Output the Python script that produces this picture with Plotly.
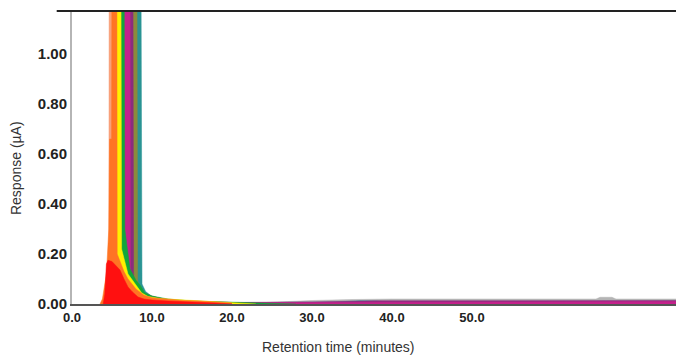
import plotly.graph_objects as go

TOP = 1.6  # peaks run off scale

# Retention times (min) and responses (uA), per sample (back to front)
gray_t = [20, 25, 30, 35, 40, 50, 60, 65.5, 66, 67.5, 68, 76.5]
gray_y = [0, 0.008, 0.014, 0.018, 0.02, 0.02, 0.02, 0.02, 0.027, 0.027, 0.02, 0.02]

teal_t = [4.9, 5.0, 8.6, 8.75, 9.2, 10, 12, 15, 20, 25, 30, 33, 36, 38, 40, 50, 60, 76.5]
teal_y = [0, TOP, TOP, 0.08, 0.05, 0.03, 0.015, 0.008, 0.005, 0.005, 0.006, 0.008, 0.013, 0.012, 0.007, 0.007, 0.007, 0.007]

olive_t = [4.9, 5.0, 8.1, 8.2, 9.0, 10, 12, 16, 20, 25, 30, 40, 76.5]
olive_y = [0, TOP, TOP, 0.09, 0.045, 0.03, 0.016, 0.008, 0.006, 0.006, 0.006, 0.006, 0.006]

purple_t = [4.9, 5.0, 7.6, 7.7, 9.0, 12, 20, 30, 38, 50, 76.5]
purple_y = [0, TOP, TOP, 0.1, 0.04, 0.015, 0.006, 0.008, 0.013, 0.014, 0.014]

magenta_t = [4.9, 5.0, 7.25, 7.3, 9.0, 12, 20, 30, 40, 55, 76.5]
magenta_y = [0, TOP, TOP, 0.12, 0.03, 0.012, 0.006, 0.007, 0.009, 0.01, 0.01]

green_t = [4.9, 5.0, 6.5, 6.6, 7.25, 8.0, 8.5, 9.1, 10, 12, 15, 20, 25, 28]
green_y = [0, TOP, TOP, 0.3, 0.14, 0.095, 0.076, 0.045, 0.032, 0.02, 0.012, 0.007, 0.004, 0]

yellow_t = [4.9, 5.0, 6.1, 6.2, 7.0, 8.0, 8.7, 9.5, 11, 13, 15, 17, 19, 21, 23]
yellow_y = [0, TOP, TOP, 0.22, 0.12, 0.076, 0.045, 0.03, 0.022, 0.018, 0.015, 0.012, 0.008, 0.004, 0]

salmon_t = [4.6, 4.65, 5.35, 5.4, 6.0]
salmon_y = [0, TOP, TOP, 0.2, 0.1]

orange_t = [3.5, 3.8, 4.0, 4.3, 4.6, 4.7, 4.95, 5.0, 5.6, 5.65, 6.5, 7.0, 8.0, 9.0, 10, 12, 14, 16, 18, 20]
orange_y = [0, 0.02, 0.06, 0.12, 0.3, 0.66, 0.66, TOP, TOP, 0.2, 0.13, 0.1, 0.06, 0.035, 0.025, 0.018, 0.014, 0.012, 0.008, 0.004]

red_t = [3.9, 4.1, 4.3, 4.5, 5.0, 5.5, 6.0, 6.5, 7.0, 7.5, 8.25, 9, 10, 12, 14, 16, 18, 20]
red_y = [0, 0.04, 0.16, 0.175, 0.17, 0.155, 0.136, 0.1, 0.068, 0.05, 0.028, 0.02, 0.016, 0.012, 0.01, 0.008, 0.004, 0]

series = [
    (gray_t, gray_y, "#b4b4b4"),
    (teal_t, teal_y, "#2a9494"),
    (olive_t, olive_y, "#8c8a3c"),
    (purple_t, purple_y, "#8a2d7e"),
    (magenta_t, magenta_y, "#c4228c"),
    (green_t, green_y, "#12a63c"),
    (yellow_t, yellow_y, "#fff000"),
    (salmon_t, salmon_y, "#f8a07a"),
    (orange_t, orange_y, "#ff7424"),
    (red_t, red_y, "#ff1010"),
]

y_ticks = [0, 0.2, 0.4, 0.6, 0.8, 1.0]
x_ticks = [0, 10, 20, 30, 40, 50]

fig = go.Figure()
for t, y, c in series:
    fig.add_trace(go.Scatter(x=t, y=y, mode="lines", fill="tozeroy",
                             line=dict(color=c, width=0.5), fillcolor=c,
                             hoverinfo="skip", showlegend=False))

# page body adds an 8px offset, so the figure is 8px smaller
fig.update_layout(
    width=676, height=348,
    margin=dict(l=64, r=0, t=3, b=52, autoexpand=False),
    plot_bgcolor="white", paper_bgcolor="white",
    font=dict(family="Liberation Sans, Arial, sans-serif", color="#222"),
    xaxis=dict(range=[0, 76.5], tickvals=x_ticks, ticktext=[f"{v:.1f}" for v in x_ticks],
               showgrid=False, zeroline=False, showline=True, linecolor="#555", linewidth=2,
               ticks="", tickfont=dict(size=13, weight="bold", color="#222")),
    yaxis=dict(range=[0, 1.172], tickvals=y_ticks, ticktext=[f"{v:.2f}" for v in y_ticks],
               showgrid=False, zeroline=False, showline=True, linecolor="#b5b5b5", linewidth=2,
               ticks="", tickfont=dict(size=15, weight="bold", color="#222")),
    shapes=[dict(type="line", xref="paper", yref="paper", x0=-0.025, x1=1, y0=1, y1=1,
                 line=dict(color="#222", width=2))],
    annotations=[
        dict(text="Response (µA)", xref="paper", yref="paper", x=-0.0915, y=0.464,
             xanchor="center", yanchor="middle",
             textangle=-90, showarrow=False, font=dict(size=14, color="#333")),
        dict(text="Retention time (minutes)", xref="paper", yref="paper", x=0.435, y=-0.147,
             xanchor="center", yanchor="middle",
             showarrow=False, font=dict(size=14, color="#333")),
    ],
)

fig.write_html("out.html")
